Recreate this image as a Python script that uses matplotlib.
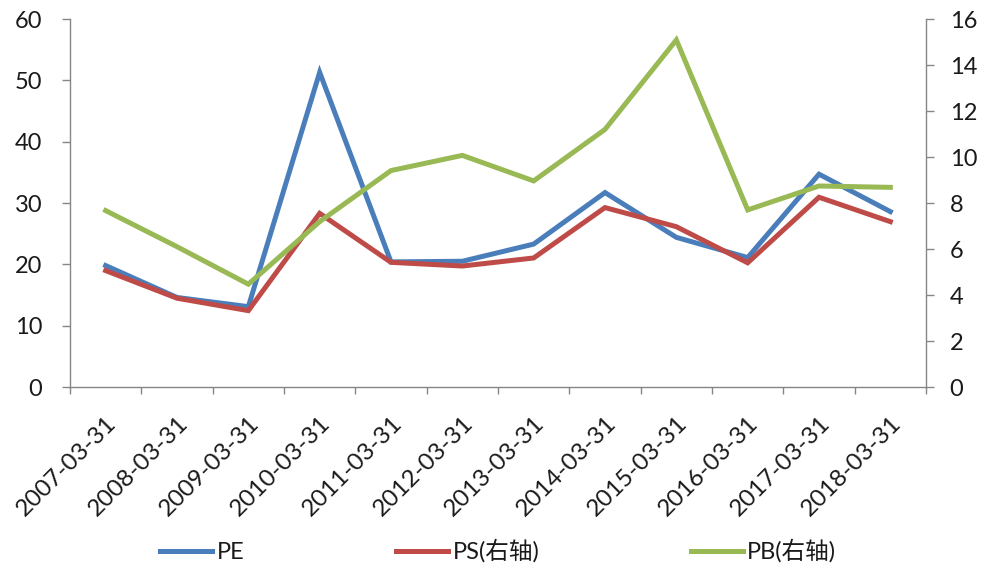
import matplotlib
matplotlib.use("Agg")
import matplotlib.pyplot as plt
from matplotlib.ticker import FixedLocator, NullFormatter, FixedFormatter

plt.rcParams['font.family'] = ['Lato', 'Noto Sans CJK SC', 'DejaVu Sans']

dates = ["2007-03-31", "2008-03-31", "2009-03-31", "2010-03-31", "2011-03-31",
         "2012-03-31", "2013-03-31", "2014-03-31", "2015-03-31", "2016-03-31",
         "2017-03-31", "2018-03-31"]
pe = [19.8, 14.6, 13.1, 51.3, 20.4, 20.5, 23.3, 31.7, 24.4, 21.1, 34.7, 28.6]
ps = [5.06, 3.86, 3.32, 7.55, 5.42, 5.26, 5.61, 7.80, 6.97, 5.40, 8.25, 7.19]
pb = [7.67, 6.10, 4.47, 7.19, 9.41, 10.07, 8.96, 11.20, 15.09, 7.70, 8.74, 8.68]
left_ticks = [0, 10, 20, 30, 40, 50, 60]
right_ticks = [0, 2, 4, 6, 8, 10, 12, 14, 16]

c_pe = "#4A7EBB"
c_ps = "#BE4B48"
c_pb = "#98B954"
axis_gray = "#868686"
txt = "#1a1a1a"

fig = plt.figure(figsize=(9.91, 5.71), dpi=100)
ax = fig.add_axes([70/991, 1 - 387/571, 856/991, 368/571])
ax2 = ax.twinx()

x = list(range(len(dates)))
lw = 3.6
l1, = ax.plot(x, pe, color=c_pe, lw=lw, label="PE", solid_joinstyle="miter")
l2, = ax2.plot(x, ps, color=c_ps, lw=lw, label="PS(右轴)", solid_joinstyle="miter")
l3, = ax2.plot(x, pb, color=c_pb, lw=lw, label="PB(右轴)", solid_joinstyle="miter")

ax.set_xlim(-0.5, len(dates) - 0.5)
ax.set_ylim(0, 60)
ax2.set_ylim(0, 16)
ax.set_yticks(left_ticks)
ax2.set_yticks(right_ticks)

# category axis: tick marks between categories, labels at centers
ax.xaxis.set_major_locator(FixedLocator([i - 0.5 for i in range(len(dates) + 1)]))
ax.xaxis.set_major_formatter(NullFormatter())
ax.xaxis.set_minor_locator(FixedLocator(x))
ax.xaxis.set_minor_formatter(FixedFormatter(dates))
ax.tick_params(axis='x', which='major', length=5, width=1, color=axis_gray, direction='out')
ax.tick_params(axis='x', which='minor', length=0, pad=18, labelsize=17.5, labelcolor=txt)
for lab in ax.get_xticklabels(minor=True):
    lab.set_rotation(45)
    lab.set_ha('right')
    lab.set_va('top')
    lab.set_rotation_mode('anchor')

ax.tick_params(axis='y', length=6, width=1, color=axis_gray, pad=14, labelsize=17, labelcolor=txt)
ax2.tick_params(axis='y', length=6, width=1, color=axis_gray, pad=11, labelsize=17, labelcolor=txt)

for a in (ax, ax2):
    a.spines['top'].set_visible(False)
    for s in ('left', 'right', 'bottom'):
        a.spines[s].set_color(axis_gray)
        a.spines[s].set_linewidth(1)
ax.spines['right'].set_visible(False)
ax2.spines['left'].set_visible(False)
ax2.spines['bottom'].set_visible(False)

fig.legend(handles=[l1, l2, l3], loc='center', bbox_to_anchor=(0.503, 1 - 551/571),
           ncol=3, frameon=False, fontsize=17, handlelength=2.2, handletextpad=0.2,
           columnspacing=6.4, labelcolor=txt)

fig.savefig("out.png", dpi=100)
